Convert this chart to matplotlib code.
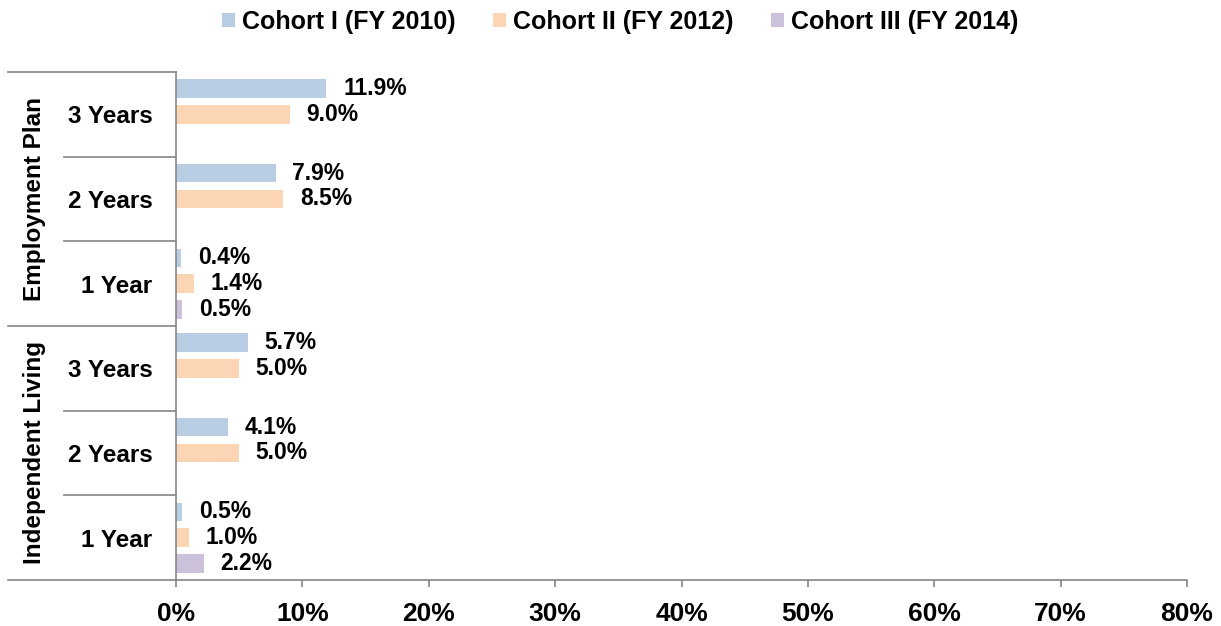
import numpy as np
import matplotlib.pyplot as plt
import matplotlib.transforms as mtransforms

plt.rcParams['font.family'] = ['Liberation Sans', 'DejaVu Sans']
plt.rcParams['font.weight'] = 'bold'

# data, top to bottom
groups = ["Employment Plan", "Independent Living"]
years = ["3 Years", "2 Years", "1 Year", "3 Years", "2 Years", "1 Year"]
cohort1 = [11.9, 7.9, 0.4, 5.7, 4.1, 0.5]
cohort2 = [9.0, 8.5, 1.4, 5.0, 5.0, 1.0]
cohort3 = [np.nan, np.nan, 0.5, np.nan, np.nan, 2.2]
series_names = ["Cohort I (FY 2010)", "Cohort II (FY 2012)", "Cohort III (FY 2014)"]
colors = ["#B9CDE5", "#FCD5B5", "#CCC1DA"]

fig = plt.figure(figsize=(12.21, 6.26), dpi=100)
ax = fig.add_axes([0.1441, 0.0735, 0.8281, 0.8115])

y = np.arange(len(years))
step = 0.305
bar_h = 0.218
gray = "#868686"

# bars + labels
for i, (vals, name, col) in enumerate(zip([cohort1, cohort2, cohort3], series_names, colors)):
    pos = y + (i - 1) * step
    ax.barh(pos, vals, height=bar_h, color=col, label=name)
    for p, v in zip(pos, vals):
        if not np.isnan(v):
            ax.annotate(f"{v:.1f}%", (v, p), xytext=(12, 0), textcoords="offset points",
                        ha="left", va="center", fontsize=16.5, fontweight="bold")

ax.set_xlim(0, 80)
ax.set_ylim(len(years) - 0.5, -0.5)
ax.set_xticks(np.arange(0, 81, 10))
ax.set_xticklabels([f"{t}%" for t in range(0, 81, 10)], fontsize=19, fontweight="bold")
ax.tick_params(axis="x", direction="out", length=5, color=gray, width=1.2, pad=11)

ax.set_yticks(y)
ax.set_yticklabels(years, fontsize=17.5, fontweight="bold")
ax.tick_params(axis="y", length=0, pad=17)

for s in ["top", "right"]:
    ax.spines[s].set_visible(False)
for s in ["left", "bottom"]:
    ax.spines[s].set_color(gray)
    ax.spines[s].set_linewidth(1.2)

# hierarchical category lines on the left
trans = mtransforms.blended_transform_factory(ax.transAxes, ax.transData)
for b in [-0.5, 2.5, 5.5]:
    ax.plot([-0.166, 0], [b, b], color=gray, lw=1.2, transform=trans, clip_on=False)
for b in [0.5, 1.5, 3.5, 4.5]:
    ax.plot([-0.111, 0], [b, b], color=gray, lw=1.2, transform=trans, clip_on=False)

# group labels
for gi, g in enumerate(groups):
    ax.text(-0.140, 1 + gi * 3, g, transform=trans, rotation=90, ha="center", va="center",
            fontsize=17.5, fontweight="bold")

fig.legend(loc="upper center", bbox_to_anchor=(0.508, 1.02), ncol=3, frameon=False,
           fontsize=18, handlelength=0.5, handleheight=0.5, handletextpad=0.3,
           columnspacing=1.5)

plt.savefig("out.png", dpi=100)
